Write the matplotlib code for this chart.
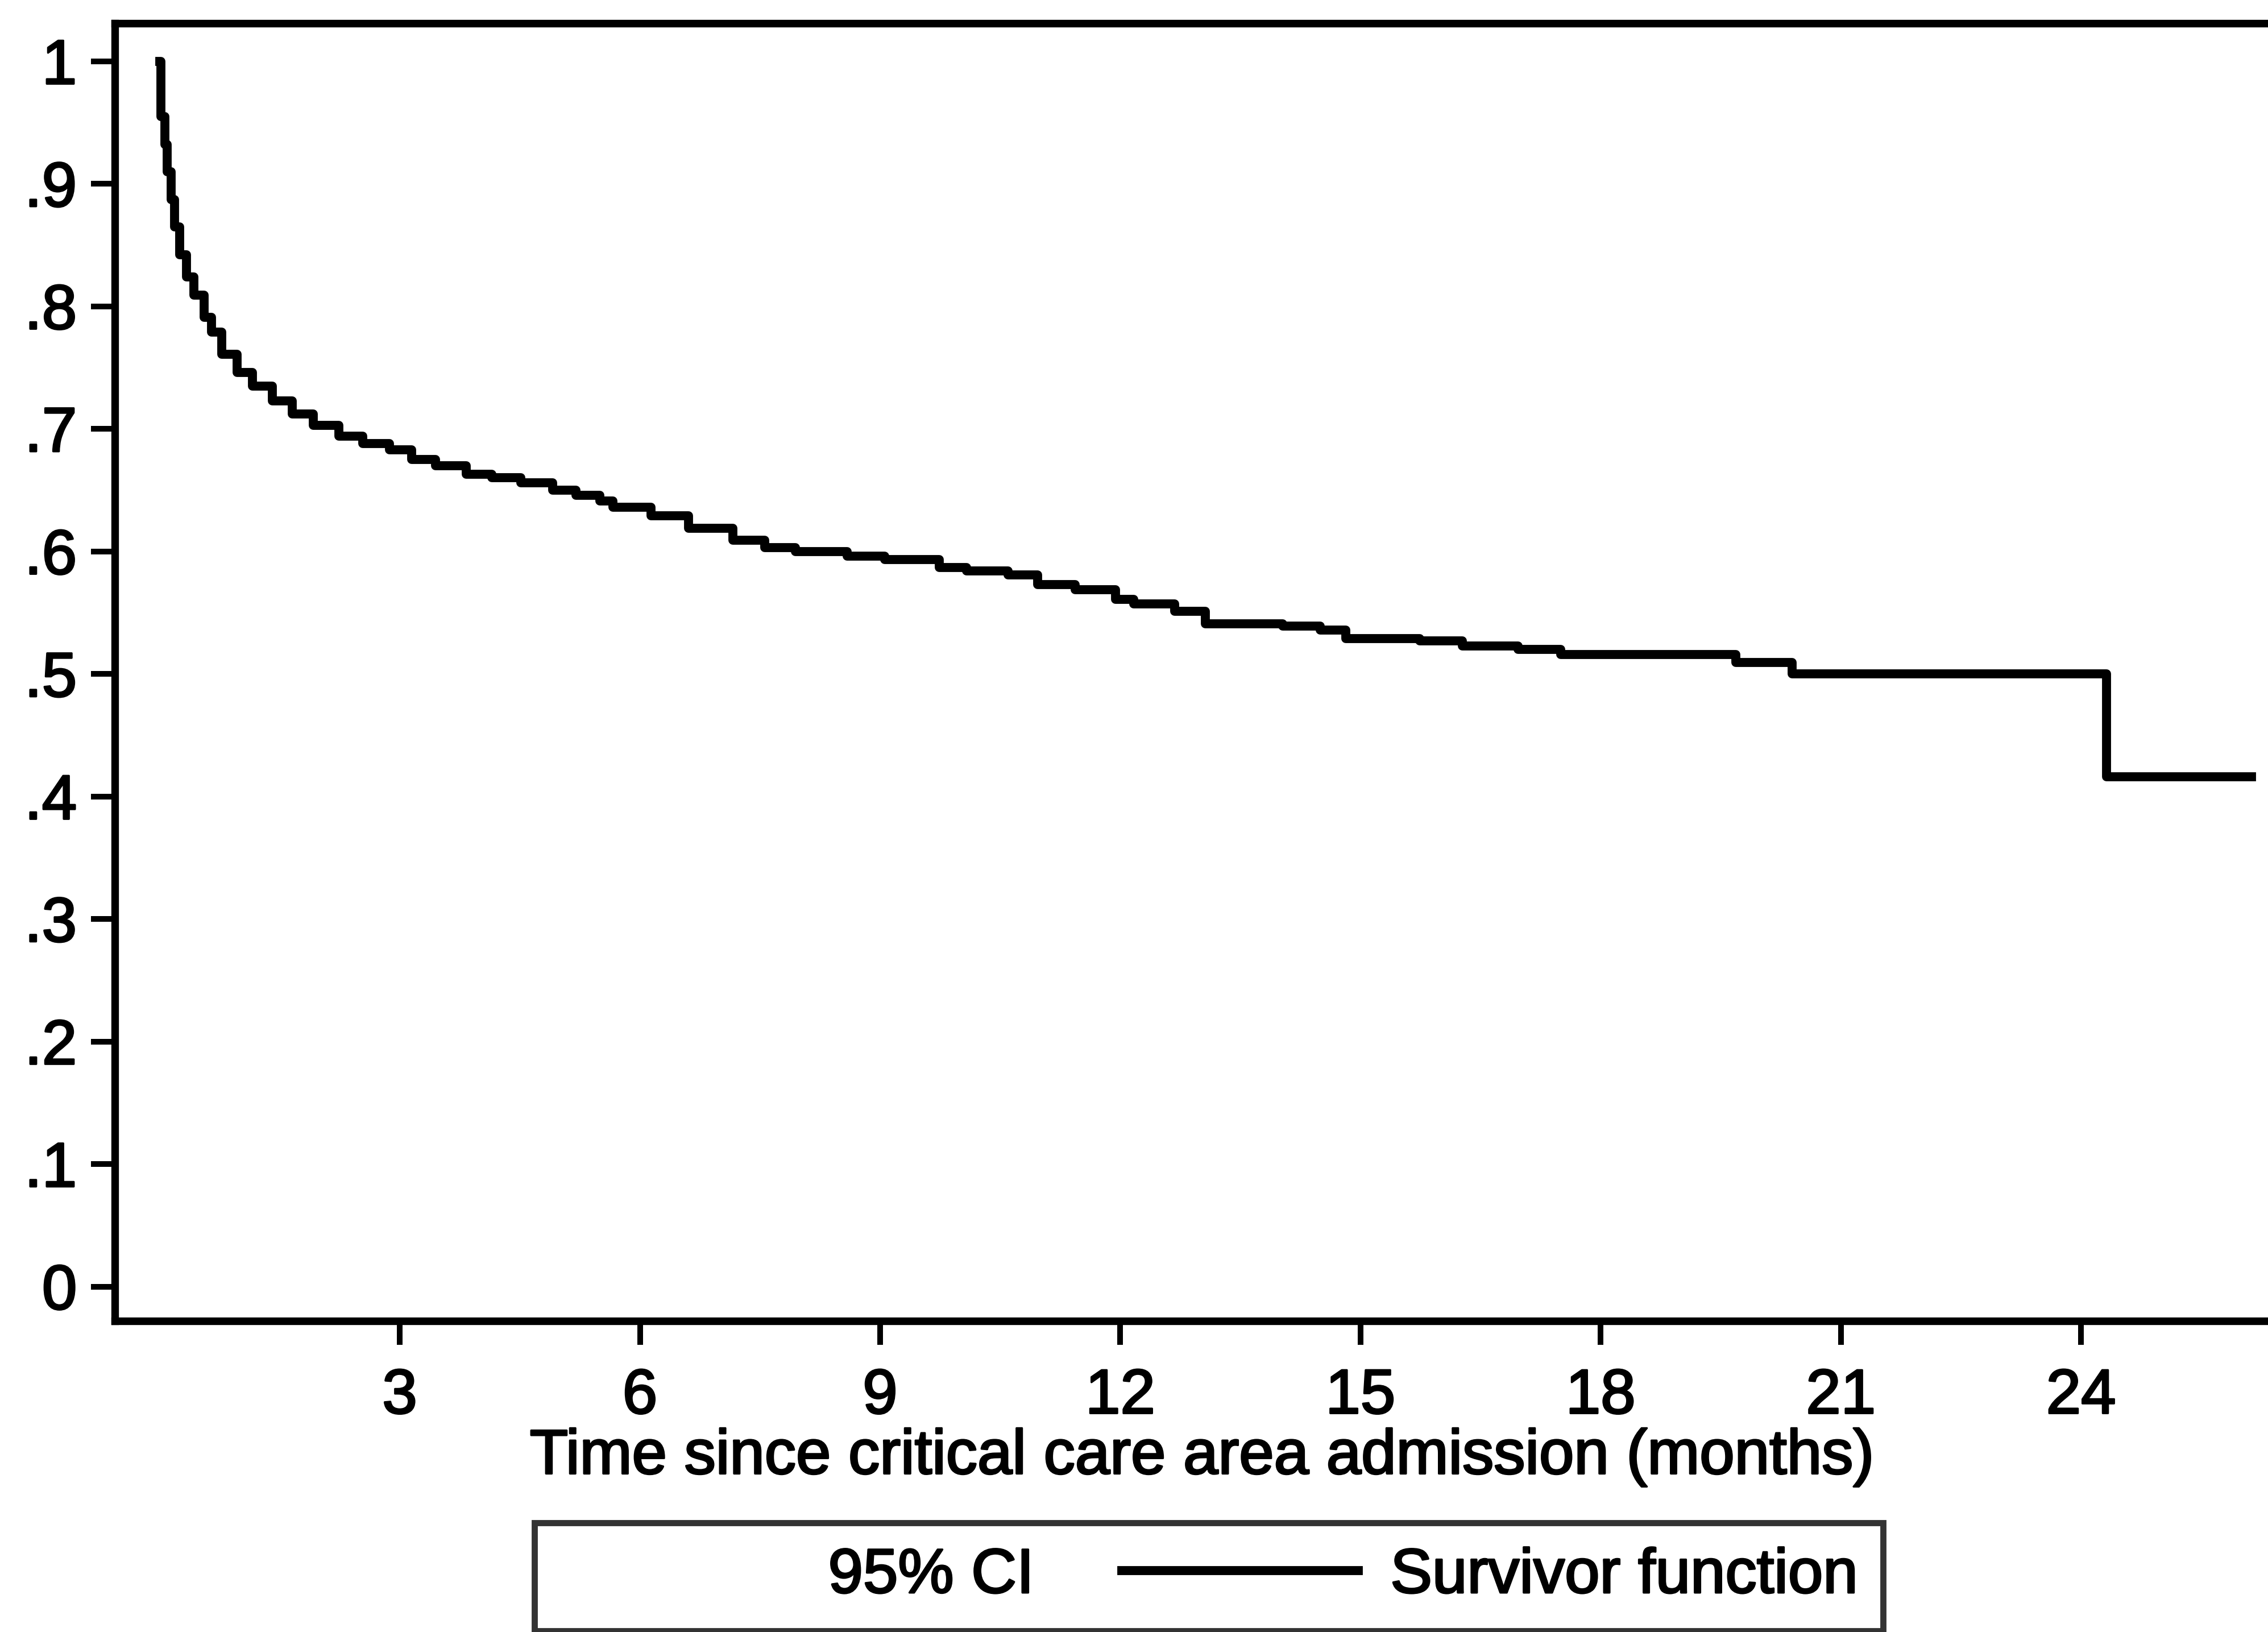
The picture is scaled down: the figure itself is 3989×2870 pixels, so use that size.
import matplotlib
matplotlib.use("Agg")
import matplotlib.pyplot as plt
import matplotlib.patheffects as pe
from matplotlib.lines import Line2D
from matplotlib.patches import Patch

plt.rcParams["font.family"] = ["Liberation Sans", "DejaVu Sans"]

# Kaplan-Meier survivor function (months since admission, survival proportion)
km_time = [0, 0.016, 0.063, 0.095, 0.143, 0.19, 0.254, 0.333, 0.428, 0.555,
           0.65, 0.777, 0.967, 1.157, 1.41, 1.66, 1.92, 2.24, 2.54, 2.87,
           3.15, 3.45, 3.83, 4.15, 4.51, 4.91, 5.2, 5.5, 5.66, 6.14,
           6.61, 7.16, 7.56, 7.94, 8.59, 9.06, 9.74, 10.08, 10.6, 10.97,
           11.44, 11.94, 12.17, 12.68, 13.06, 14.03, 14.5, 14.82, 15.74, 16.27,
           16.97, 17.5, 19.69, 20.39, 24.32, 26.13]
km_surv = [1.0, 0.955, 0.932, 0.910, 0.887, 0.865, 0.842, 0.824, 0.809, 0.791,
           0.779, 0.761, 0.746, 0.735, 0.723, 0.712, 0.703, 0.694, 0.688, 0.683,
           0.675, 0.670, 0.663, 0.660, 0.656, 0.650, 0.646, 0.641, 0.636, 0.629,
           0.619, 0.609, 0.603, 0.600, 0.596, 0.5935, 0.587, 0.584, 0.581, 0.573,
           0.569, 0.561, 0.557, 0.551, 0.541, 0.539, 0.536, 0.529, 0.527, 0.523,
           0.520, 0.516, 0.5095, 0.500, 0.416, 0.416]

x_ticks = [3, 6, 9, 12, 15, 18, 21, 24]
y_ticks = [0, 0.1, 0.2, 0.3, 0.4, 0.5, 0.6, 0.7, 0.8, 0.9, 1.0]
y_ticklabels = ["0", ".1", ".2", ".3", ".4", ".5", ".6", ".7", ".8", ".9", "1"]

FS = 26.5
heavy = [pe.withStroke(linewidth=0.8, foreground="black")]

fig = plt.figure(figsize=(3989 / 300, 2870 / 300), dpi=300)
ax = fig.add_axes([0.0506, 0.1906, 0.9587, 0.7951])

ax.plot(km_time, km_surv, color="black", lw=3.8, drawstyle="steps-post")

ax.set_xlim(-0.56, 26.6)
ax.set_ylim(-0.028, 1.031)
ax.set_xticks(x_ticks)
ax.set_xticklabels([str(t) for t in x_ticks])
ax.set_yticks(y_ticks)
ax.set_yticklabels(y_ticklabels)

for s in ax.spines.values():
    s.set_linewidth(3.2)
ax.tick_params(axis="both", length=10, width=2.4, labelsize=FS, color="black")
ax.tick_params(axis="x", pad=10)
ax.tick_params(axis="y", pad=6)

ax.set_xlabel("Time since critical care area admission (months)", fontsize=FS, labelpad=1)

handles = [Patch(facecolor="none", edgecolor="none"),
           Line2D([], [], color="black", lw=3.8)]
leg = fig.legend(handles, ["95% CI", "Survivor function"], loc="lower left",
                 bbox_to_anchor=(0.2356, 0.0007), ncol=2, fontsize=FS,
                 handlelength=3.77, handletextpad=0.51, columnspacing=1.4,
                 borderpad=0.4, borderaxespad=0, fancybox=False,
                 frameon=True, edgecolor="black")
leg.get_frame().set_linewidth(2.6)

# slightly heavier strokes on all text
for t in ax.get_xticklabels() + ax.get_yticklabels() + leg.get_texts() + [ax.xaxis.label]:
    t.set_path_effects(heavy)

fig.savefig("out.png", dpi=300)
